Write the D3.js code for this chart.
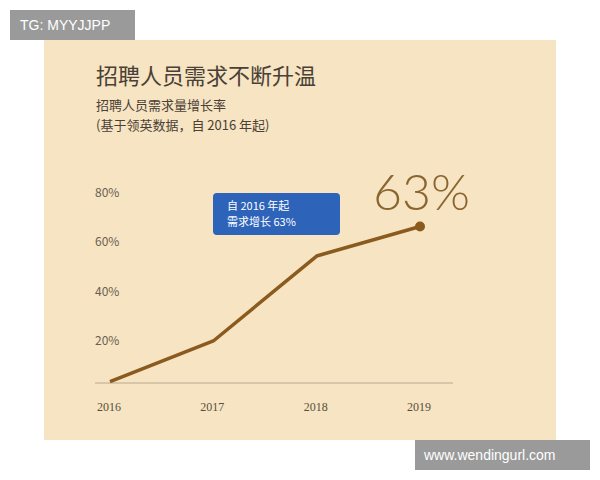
<!DOCTYPE html>
<html><head><meta charset="utf-8">
<script src="https://cdn.jsdelivr.net/npm/d3@7"></script>
<style>body{margin:0;background:#fff;font-family:"Noto Sans CJK SC","Noto Sans",sans-serif}</style>
</head><body>
<script>
const years = ["2016", "2017", "2018", "2019"];
const growth = [3, 19.5, 54, 66];
const yTicks = [20, 40, 60, 80];

const svg = d3.select("body").append("svg").attr("width", 600).attr("height", 480);

// Beige panel
svg.append("rect").attr("x", 44).attr("y", 40).attr("width", 512).attr("height", 400).attr("fill", "#f6e4c2");

const x = d3.scalePoint().domain(years).range([110, 420]);
const y = d3.scaleLinear().domain([0, 80]).range([389, 192]);

// Titles
svg.append("text").attr("x", 96).attr("y", 84).attr("font-size", 22).attr("fill", "#4a4036").text("招聘人员需求不断升温");
svg.append("text").attr("x", 96).attr("y", 110).attr("font-size", 13).attr("fill", "#4a4036").text("招聘人员需求量增长率");
svg.append("text").attr("x", 96).attr("y", 130).attr("font-size", 13).attr("fill", "#4a4036").text("(基于领英数据，自 2016 年起)");

// Y tick labels
svg.selectAll(".yt").data(yTicks).enter().append("text")
  .attr("x", 95).attr("y", d => y(d) + 5).attr("font-size", 12).attr("fill", "#6a5e50")
  .text(d => d + "%");

// Baseline
svg.append("line").attr("x1", 95).attr("x2", 453).attr("y1", 383).attr("y2", 383)
  .attr("stroke", "#b8a890").attr("stroke-width", 1);

// X labels
svg.selectAll(".xt").data(years).enter().append("text")
  .attr("x", d => x(d) - 1).attr("y", 411).attr("text-anchor", "middle")
  .attr("font-size", 12).attr("fill", "#5a4e40").attr("font-family", "Liberation Serif, serif")
  .text(d => d);

// Line
const pts = years.map((d, i) => [x(d), y(growth[i])]);
svg.append("path").attr("d", d3.line()(pts)).attr("fill", "none")
  .attr("stroke", "#8a5a1e").attr("stroke-width", 3.5).attr("stroke-linejoin", "round");
svg.append("circle").attr("cx", pts[3][0]).attr("cy", pts[3][1]).attr("r", 5).attr("fill", "#8a5a1e");

// Big label
svg.append("text").attr("x", 470).attr("y", 210).attr("text-anchor", "end")
  .attr("font-size", 50).attr("font-weight", 300).attr("fill", "#8a6530").attr("font-family", "Lato, sans-serif").text("63%");

// Blue callout
svg.append("rect").attr("x", 213).attr("y", 193).attr("width", 127).attr("height", 42).attr("rx", 4).attr("fill", "#2d63b8");
svg.append("text").attr("x", 227).attr("y", 210).attr("font-size", 11).attr("fill", "#fff").text("自 2016 年起");
svg.append("text").attr("x", 227).attr("y", 226).attr("font-size", 11).attr("fill", "#fff").text("需求增长 63%");

// Watermarks
svg.append("rect").attr("x", 10).attr("y", 10).attr("width", 125).attr("height", 30).attr("fill", "#9a9a9a");
svg.append("text").attr("x", 20).attr("y", 30).attr("font-size", 14).attr("fill", "#fff").attr("font-family", "Liberation Sans, sans-serif").text("TG: MYYJJPP");
svg.append("rect").attr("x", 415).attr("y", 440).attr("width", 175).attr("height", 30).attr("fill", "#9a9a9a");
svg.append("text").attr("x", 424).attr("y", 460).attr("font-size", 14).attr("fill", "#fff").attr("font-family", "Liberation Sans, sans-serif").text("www.wendingurl.com");
</script>
</body></html>
